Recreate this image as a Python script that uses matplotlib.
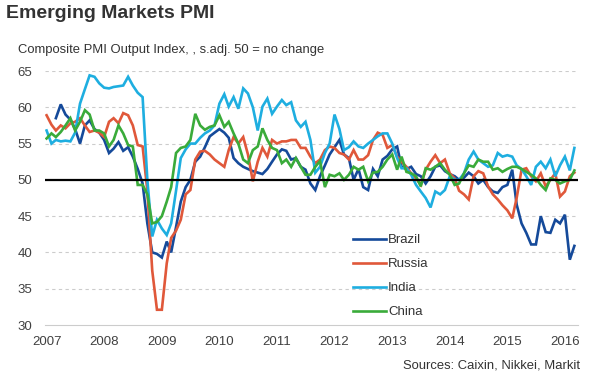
import numpy as np
import pandas as pd
import matplotlib
matplotlib.use('Agg')
import matplotlib.pyplot as plt
import matplotlib.dates as mdates

plt.rcParams['font.family'] = ['Liberation Sans', 'DejaVu Sans']

# monthly composite PMI, Jan 2007 - Mar 2016
months = pd.date_range('2007-01-01', periods=111, freq='MS')

brazil = [np.nan, np.nan,
          58.5, 60.4, 59.0, 58.3, 57.0, 55.0, 57.5, 58.2, 57.0, 56.5,
          55.5, 53.7, 54.3, 55.2, 54.0, 54.5, 53.2, 51.5, 49.5, 44.0,
          40.0, 39.8, 39.3, 41.5, 40.0, 43.5, 47.0, 49.0, 50.0, 52.5,
          53.2, 54.5, 56.0, 56.5, 57.0, 56.5, 55.8, 53.0, 52.3, 51.8,
          51.5, 51.2, 51.0, 50.8, 51.5, 52.5, 53.5, 54.2, 54.0, 52.8,
          53.0, 51.8, 51.4, 49.5, 48.6, 50.5, 52.0, 53.5, 54.5, 55.5,
          53.5, 53.0, 50.0, 51.5, 49.0, 48.6, 51.5, 50.5, 52.8, 53.3,
          54.2, 54.6, 51.8, 51.5, 51.8, 50.8, 50.5, 49.5, 50.5, 51.8,
          52.0, 51.2, 50.8, 50.5, 50.0, 50.3, 51.0, 50.5, 49.5, 50.0,
          49.0, 48.4, 48.2, 49.0, 49.3, 51.4, 46.6, 44.0, 42.7, 41.1,
          41.1, 45.0, 42.8, 42.7, 44.5, 44.0, 45.2, 39.0, 40.9]

russia = [58.9, 57.6, 56.8, 57.5, 57.1, 57.8, 58.0, 58.5, 57.5, 56.6,
          56.8, 56.5, 55.9, 58.0, 58.5, 57.8, 59.2, 58.9, 57.5, 54.8,
          54.6, 48.5, 37.5, 32.1, 32.1, 38.5, 42.0, 43.0, 44.5, 48.0,
          48.6, 52.8, 53.9, 54.0, 53.5, 52.8, 52.3, 51.8, 54.1, 55.9,
          55.0, 55.9, 53.5, 49.8, 52.5, 54.4, 53.2, 55.5, 55.0, 55.3,
          55.3, 55.5, 55.5, 54.4, 54.4, 53.2, 52.3, 52.8, 54.1, 54.6,
          54.4, 53.7, 53.5, 52.8, 54.1, 52.8, 52.8, 53.4, 55.5, 56.5,
          56.2, 54.4, 54.8, 53.2, 52.5, 51.8, 50.9, 50.2, 49.3, 51.4,
          52.5, 53.4, 52.3, 52.8, 50.9, 50.2, 48.5, 48.0, 47.3, 50.5,
          51.2, 50.9, 49.1, 48.0, 47.3, 46.5, 45.8, 44.7, 47.5, 51.4,
          51.6, 50.5, 49.8, 50.9, 49.1, 50.0, 50.9, 47.7, 48.4, 50.5, 51.0]

india = [56.8, 55.0, 55.5, 55.3, 55.4, 55.3, 56.5, 60.5, 62.5, 64.4,
         64.2, 63.3, 62.7, 62.6, 62.8, 62.9, 63.0, 64.2, 63.0, 62.0,
         61.4, 50.0, 42.2, 44.5, 43.3, 42.4, 44.0, 48.5, 53.0, 54.2,
         55.0, 55.0, 55.8, 56.4, 56.8, 57.5, 60.5, 61.8, 60.1, 61.4,
         59.8, 62.6, 61.9, 60.0, 56.8, 60.1, 61.2, 59.1, 60.1, 61.0,
         60.3, 60.7, 58.2, 57.3, 58.0, 55.5, 51.0, 51.8, 53.7, 55.0,
         59.0, 57.0, 54.1, 54.5, 55.3, 54.6, 54.4, 55.0, 55.5, 56.0,
         56.4, 56.4, 55.0, 53.0, 51.6, 51.6, 50.7, 49.3, 48.4, 47.5,
         46.2, 48.4, 48.0, 48.6, 50.5, 50.0, 50.0, 50.9, 52.8, 53.9,
         52.8, 52.3, 51.8, 52.0, 53.7, 53.2, 53.4, 53.2, 52.0, 51.5,
         50.5, 49.3, 51.8, 52.5, 51.6, 52.8, 50.5, 52.0, 53.2, 51.3, 54.4]

china = [55.7, 56.4, 55.9, 56.6, 57.5, 58.5, 56.8, 58.0, 59.6, 59.0,
         56.8, 56.8, 56.4, 54.6, 55.5, 57.5, 56.4, 54.8, 54.6, 49.3,
         49.3, 48.0, 44.0, 44.2, 45.0, 47.0, 49.0, 53.7, 54.4, 54.6,
         55.5, 59.1, 57.5, 56.9, 57.3, 57.5, 58.9, 57.3, 58.0, 56.4,
         55.0, 52.8, 52.3, 54.1, 54.6, 57.1, 55.5, 54.4, 54.1, 52.3,
         52.8, 51.8, 53.0, 51.8, 50.7, 50.7, 51.8, 52.6, 49.0, 50.7,
         50.5, 50.9, 50.0, 50.7, 51.8, 51.4, 51.8, 49.8, 51.0, 51.1,
         51.8, 52.8, 53.5, 51.4, 53.2, 51.1, 50.9, 50.5, 49.1, 51.6,
         51.4, 51.8, 52.3, 51.4, 50.7, 49.3, 49.5, 50.9, 52.0, 51.8,
         52.8, 52.5, 52.5, 51.4, 51.6, 51.1, 51.5, 51.8, 51.8, 51.5,
         51.1, 50.7, 50.2, 49.3, 48.6, 50.2, 50.0, 49.5, 49.8, 50.0, 51.3]

series = ['Brazil', 'Russia', 'India', 'China']
colors = ['#154a9a', '#e0583a', '#1eaee0', '#3aab3a']
yticks = [30, 35, 40, 45, 50, 55, 60, 65]

fig = plt.figure(figsize=(5.92, 3.79), dpi=100)
ax = fig.add_axes([45 / 592, 1 - 325 / 379, 533 / 592, 254 / 379])

for name, vals, c in zip(series, [brazil, russia, india, china], colors):
    ax.plot(months, vals, color=c, lw=1.9, label=name, solid_joinstyle='miter')

ax.axhline(50, color='black', lw=1.6, zorder=5)

ax.set_ylim(30, 65)
ax.set_yticks(yticks)
for y in yticks[1:]:
    if y != 50:
        ax.axhline(y, color='#cccccc', lw=0.8, ls=(0, (3, 3)), zorder=0)

ax.set_xlim(pd.Timestamp('2006-12-22'), pd.Timestamp('2016-03-24'))
ax.xaxis.set_major_locator(mdates.YearLocator())
ax.xaxis.set_major_formatter(mdates.DateFormatter('%Y'))

for s in ['top', 'right', 'left']:
    ax.spines[s].set_visible(False)
ax.spines['bottom'].set_color('#cccccc')
ax.spines['bottom'].set_linewidth(0.8)
ax.tick_params(length=0, labelsize=9.5, colors='#404040')
ax.tick_params(axis='y', pad=9)
ax.tick_params(axis='x', pad=8)

fig.text(6 / 592, 1 - 18.5 / 379, 'Emerging Markets PMI', fontsize=14, fontweight='bold',
         color='#333333', va='baseline', ha='left')
fig.text(18 / 592, 1 - 53 / 379, 'Composite PMI Output Index, , s.adj. 50 = no change',
         fontsize=9.4, color='#333333', va='baseline', ha='left')
fig.text(580 / 592, 1 - 368 / 379, 'Sources: Caixin, Nikkei, Markit', fontsize=9.4,
         color='#333333', va='baseline', ha='right')

ax.legend(loc='upper left', bbox_to_anchor=(353 / 592, 1 - 234 / 379),
          bbox_transform=fig.transFigure, frameon=False, fontsize=9.5,
          handlelength=2.5, handletextpad=0.15, labelspacing=0.89, borderpad=0,
          borderaxespad=0, labelcolor='#333333')

fig.savefig('out.png', dpi=100)
